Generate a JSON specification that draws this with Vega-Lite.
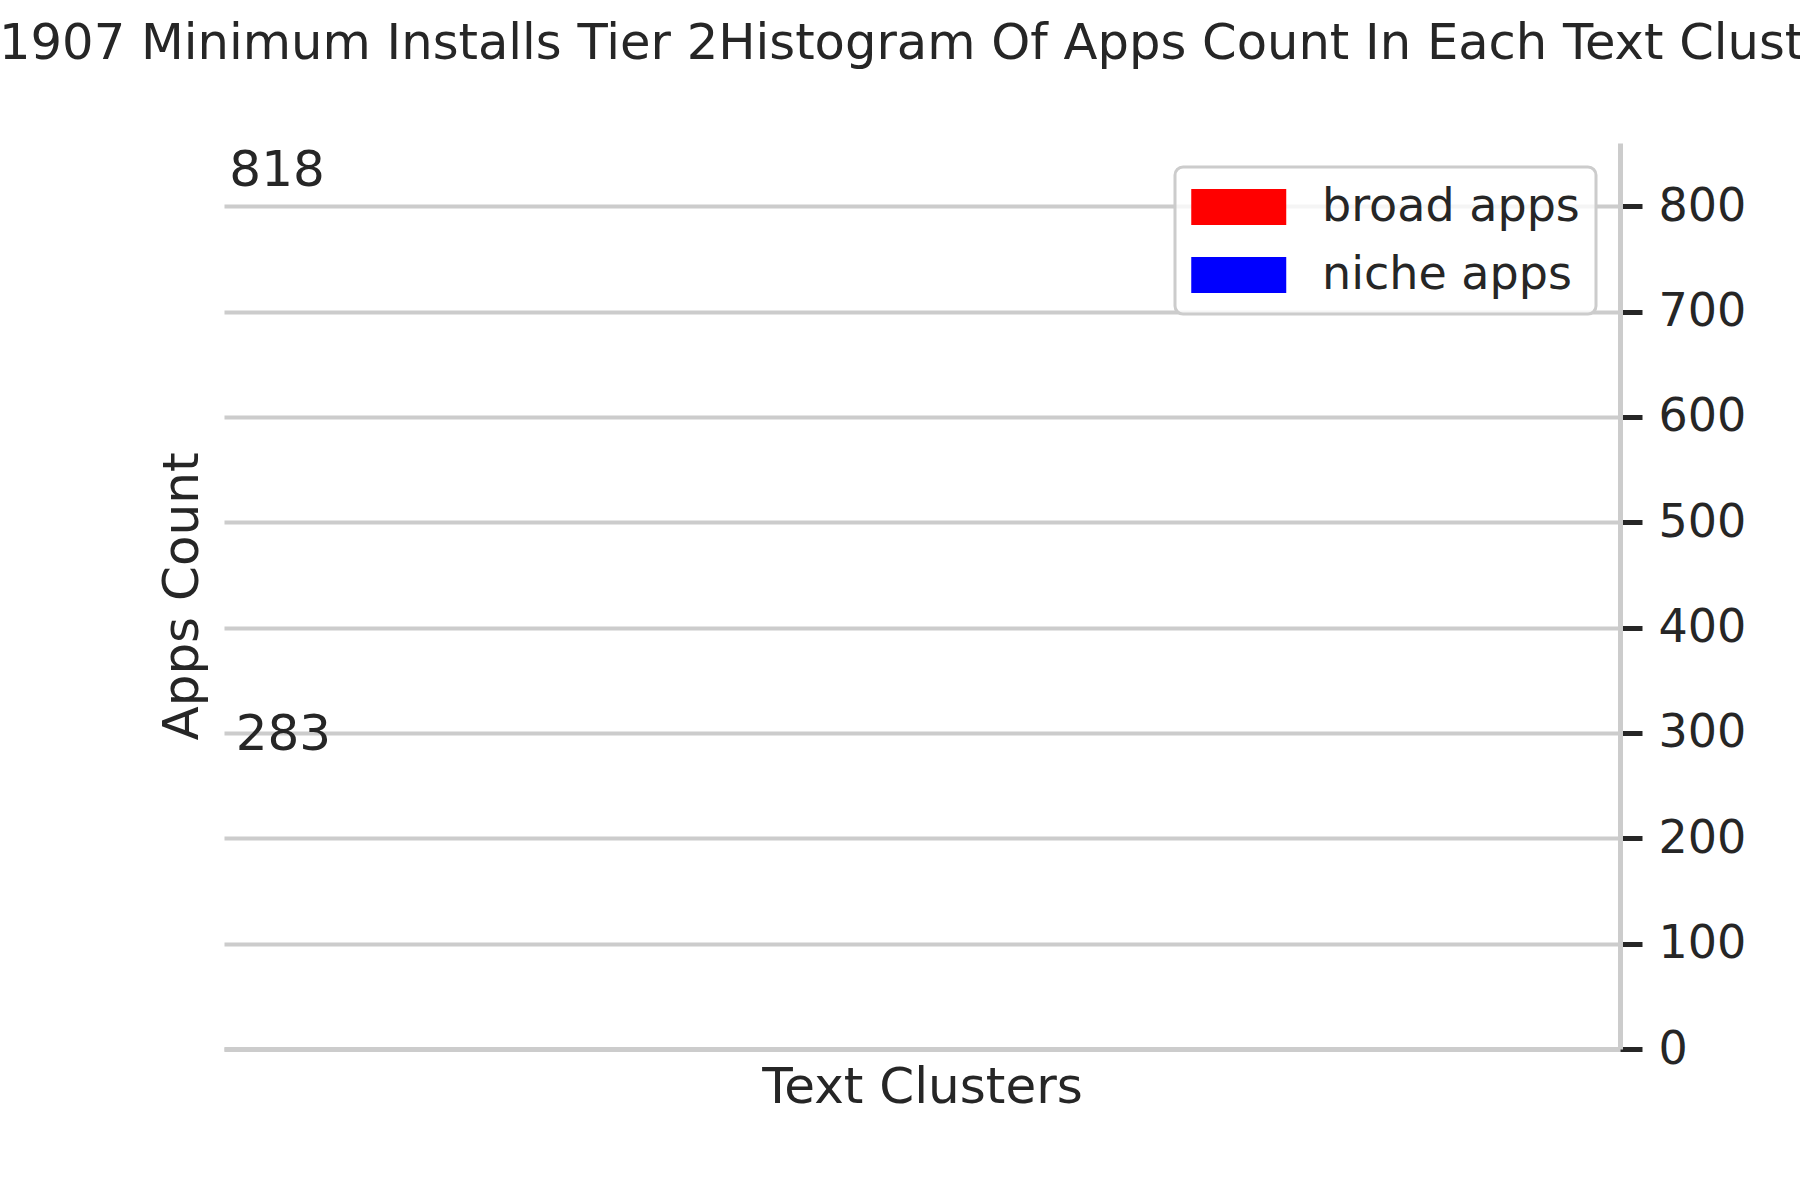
{
  "$schema": "https://vega.github.io/schema/vega-lite/v6.json",
  "width": 1396,
  "height": 906,
  "autosize": {"type": "none"},
  "padding": {"left": 224, "top": 143, "right": 180, "bottom": 151},
  "background": "white",
  "config": {
    "font": "DejaVu Sans",
    "view": {"stroke": null}
  },
  "title": {
    "text": "1907 Minimum Installs Tier 2Histogram Of Apps Count In Each Text Clusters",
    "anchor": "start",
    "frame": "group",
    "dx": -225,
    "fontSize": 49.6,
    "fontWeight": "normal",
    "color": "#262626",
    "baseline": "alphabetic",
    "offset": 34
  },
  "data": {
    "values": [
      {"group": "broad apps", "cluster": 0.038, "count": 818},
      {"group": "niche apps", "cluster": 0.0426, "count": 283}
    ]
  },
  "layer": [
    {
      "mark": {"type": "bar", "opacity": 0, "width": 2},
      "encoding": {
        "x": {
          "field": "cluster",
          "type": "quantitative",
          "scale": {"domain": [0, 1], "nice": false, "zero": false, "padding": 0},
          "axis": {
            "title": "Text Clusters",
            "labels": false,
            "ticks": false,
            "grid": false,
            "domainColor": "#cccccc",
            "domainWidth": 5,
            "titleFontSize": 50,
            "titleFontWeight": "normal",
            "titleColor": "#262626",
            "titlePadding": 13
          }
        },
        "y": {
          "field": "count",
          "type": "quantitative",
          "scale": {"domain": [0, 860], "nice": false},
          "axis": {
            "orient": "right",
            "title": null,
            "values": [0, 100, 200, 300, 400, 500, 600, 700, 800],
            "grid": true,
            "gridColor": "#cccccc",
            "gridWidth": 4,
            "domainColor": "#cccccc",
            "domainWidth": 5,
            "tickColor": "#262626",
            "tickWidth": 5,
            "tickSize": 22,
            "labelFontSize": 46,
            "labelColor": "#262626",
            "labelPadding": 16
          }
        },
        "color": {
          "field": "group",
          "type": "nominal",
          "scale": {"domain": ["broad apps", "niche apps"], "range": ["#ff0000", "#0000ff"]},
          "legend": {
            "title": null,
            "orient": "none",
            "legendX": 951,
            "legendY": 24,
            "symbolType": "M-1,-0.76H3V0.76H-1Z",
            "symbolSize": 2256,
            "symbolStrokeWidth": 0,
            "symbolOpacity": 1,
            "labelFontSize": 46,
            "labelColor": "#262626",
            "labelOffset": 83,
            "labelLimit": 500,
            "padding": 16,
            "rowPadding": 21,
            "strokeColor": "#cccccc",
            "cornerRadius": 8,
            "fillColor": "rgba(255,255,255,0.8)",
            "encode": {"legend": {"update": {"strokeWidth": {"value": 3}}}}
          }
        }
      }
    },
    {
      "mark": {"type": "text", "fontSize": 50, "baseline": "alphabetic", "color": "#262626", "dy": -1},
      "encoding": {
        "x": {"field": "cluster", "type": "quantitative"},
        "y": {
          "field": "count",
          "type": "quantitative",
          "axis": {
            "orient": "left",
            "title": "Apps Count",
            "labels": false,
            "ticks": false,
            "domain": false,
            "grid": false,
            "titleFontSize": 50,
            "titleFontWeight": "normal",
            "titleColor": "#262626",
            "titlePadding": 17
          }
        },
        "text": {"field": "count", "type": "quantitative"}
      }
    }
  ],
  "resolve": {"axis": {"y": "independent"}}
}
